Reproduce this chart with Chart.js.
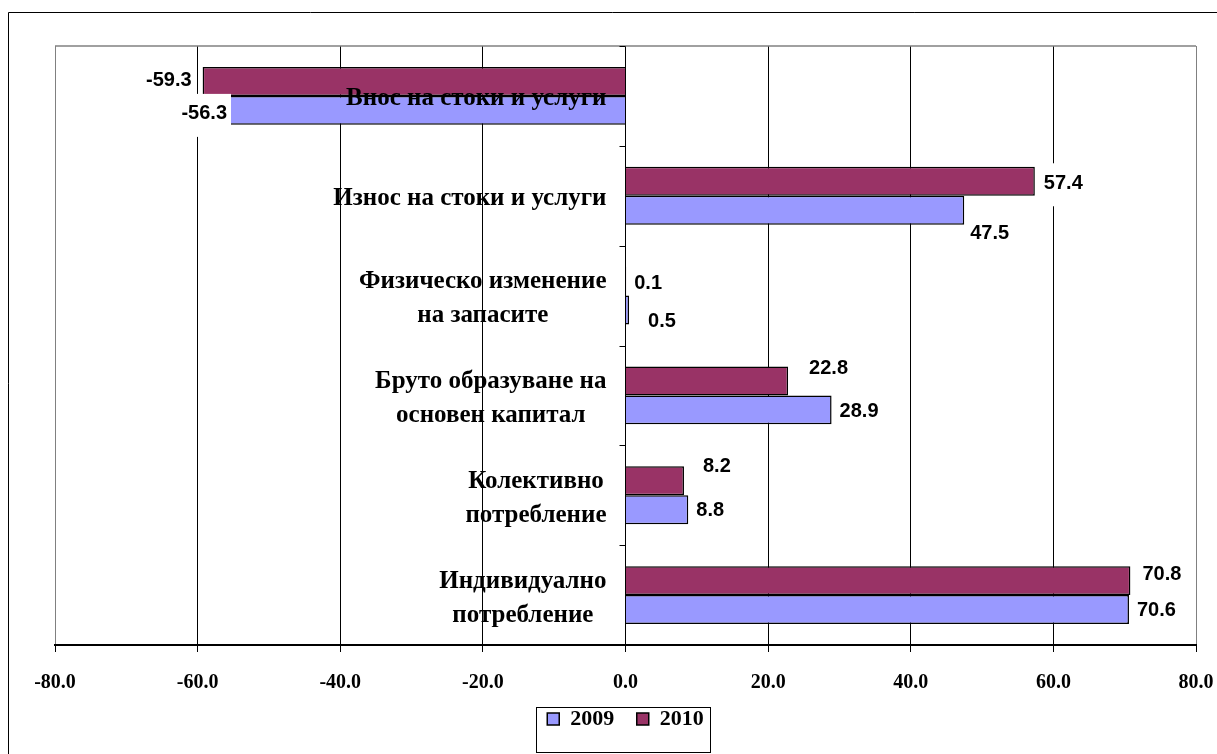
<!DOCTYPE html>
<html>
<head>
<meta charset="utf-8">
<script src="https://cdn.jsdelivr.net/npm/chart.js@4.4.0/dist/chart.umd.min.js"></script>
<style>
  html, body { margin: 0; padding: 0; background: #fff; }
</style>
</head>
<body>
<canvas id="myChart" width="1217" height="754"></canvas>
<script>
const categories = [
  'Внос на стоки и услуги',
  'Износ на стоки и услуги',
  ['Физическо изменение', 'на запасите'],
  ['Бруто образуване на', 'основен капитал'],
  ['Колективно', 'потребление'],
  ['Индивидуално', 'потребление']
];
const values2010 = [-59.3, 57.4, 0.1, 22.8, 8.2, 70.8];
const values2009 = [-56.3, 47.5, 0.5, 28.9, 8.8, 70.6];
const xTicks = [-80, -60, -40, -20, 0, 20, 40, 60, 80];

// where each value label sits, relative to the end of its bar (px)
const labelShift2010 = [[11, -1.5], [9, 1], [8, 1.5], [21, -13.5], [19, -15.5], [12, -7.5]];
const labelShift2009 = [[-3, 2.5], [6, 22.5], [19, 10], [8, 0.5], [8, 0], [8, 0]];

const serif = '"Liberation Serif", "Times New Roman", serif';
const sans = '"Liberation Sans", Arial, sans-serif';

const extras = {
  id: 'extras',
  beforeDraw(chart) {
    const c = chart.ctx;
    c.save();
    c.fillStyle = '#fff';
    c.fillRect(0, 0, chart.width, chart.height);
    c.strokeStyle = '#000';
    c.lineWidth = 1;
    c.beginPath();
    c.moveTo(8.5, chart.height);
    c.lineTo(8.5, 12.5);
    c.lineTo(chart.width, 12.5);
    c.stroke();
    c.restore();
  },
  beforeDatasetsDraw(chart) {
    const c = chart.ctx, a = chart.chartArea;
    c.save();
    c.strokeStyle = '#808080';
    c.lineWidth = 1.5;
    c.beginPath();
    c.moveTo(a.left, a.top);
    c.lineTo(a.right, a.top);
    c.stroke();
    c.restore();
  },
  afterDatasetsDraw(chart) {
    const c = chart.ctx;
    const xs = chart.scales.x, ys = chart.scales.y;
    const x0 = xs.getPixelForValue(0);
    const band = ys.getPixelForValue(1) - ys.getPixelForValue(0);
    c.save();

    // small ticks on the zero line between categories
    c.strokeStyle = '#000';
    c.lineWidth = 1;
    c.beginPath();
    for (let i = 0; i <= categories.length; i++) {
      const y = Math.round(ys.getPixelForValue(0) - band / 2 + i * band) + 0.5;
      c.moveTo(x0 - 6, y);
      c.lineTo(x0, y);
    }
    c.stroke();

    // category names, block ends just left of the zero line
    c.font = 'bold 25px ' + serif;
    c.fillStyle = '#000';
    c.textAlign = 'center';
    c.textBaseline = 'middle';
    categories.forEach((cat, i) => {
      const lines = Array.isArray(cat) ? cat : [cat];
      const w = Math.max(...lines.map(l => c.measureText(l).width));
      const cx = x0 - 19 - w / 2;
      const cy = ys.getPixelForValue(i) + 3;
      lines.forEach((l, k) => {
        c.fillText(l, cx, cy + (k - (lines.length - 1) / 2) * 34);
      });
    });

    // value labels
    c.font = 'bold 20px ' + sans;
    const shifts = [labelShift2010, labelShift2009];
    chart.data.datasets.forEach((ds, di) => {
      const meta = chart.getDatasetMeta(di);
      meta.data.forEach((bar, i) => {
        const v = ds.data[i];
        const txt = v.toFixed(1);
        const [dx, dy] = shifts[di][i];
        const w = c.measureText(txt).width;
        const y = bar.y + dy;
        const left = v >= 0 ? bar.x + dx : bar.x - dx - w;
        c.fillStyle = '#fff';
        c.fillRect(left - 4, y - 19, w + 8, 43);
        c.fillStyle = '#000';
        c.textAlign = 'left';
        c.fillText(txt, left, y + 1);
      });
    });
    c.restore();
  },
  afterDraw(chart) {
    const lg = chart.legend;
    if (!lg || !lg.legendHitBoxes.length) return;
    const hb = lg.legendHitBoxes;
    const first = hb[0], last = hb[hb.length - 1];
    const c = chart.ctx;
    c.save();
    c.strokeStyle = '#000';
    c.lineWidth = 1;
    const l = Math.round(first.left - 11) + 0.5;
    const r = Math.round(last.left + last.width + 6) + 0.5;
    const t = Math.round(first.top - 1) + 0.5;
    c.strokeRect(l, t, r - l, 45);
    c.restore();
  }
};

new Chart(document.getElementById('myChart'), {
  type: 'bar',
  data: {
    labels: categories,
    datasets: [
      {
        label: '2010',
        data: values2010,
        backgroundColor: '#993366',
        borderColor: '#000',
        borderWidth: 1.5,
        categoryPercentage: 0.58,
        barPercentage: 1
      },
      {
        label: '2009',
        data: values2009,
        backgroundColor: '#9999FF',
        borderColor: '#000',
        borderWidth: 1.5,
        categoryPercentage: 0.58,
        barPercentage: 1
      }
    ]
  },
  options: {
    indexAxis: 'y',
    responsive: false,
    animation: false,
    layout: { padding: { left: 55, top: 46, right: 21, bottom: 14 } },
    scales: {
      x: {
        min: -80,
        max: 80,
        afterBuildTicks: axis => { axis.ticks = xTicks.map(v => ({ value: v })); },
        afterFit: axis => {
          axis.height = 46;
          axis.paddingLeft = 0;
          axis.paddingRight = 0;
        },
        grid: {
          color: ctx => (ctx.tick && Math.abs(ctx.tick.value) === 80) ? '#808080' : '#000',
          tickColor: '#000',
          tickLength: 7,
          lineWidth: 1
        },
        border: { color: '#000', width: 2 },
        ticks: {
          padding: 28,
          color: '#000',
          maxRotation: 0,
          font: { family: serif, weight: 'bold', size: 20, lineHeight: '6px' },
          callback: v => Number(v).toFixed(1)
        }
      },
      y: { display: false }
    },
    plugins: {
      legend: {
        position: 'bottom',
        fullSize: false,
        labels: {
          color: '#000',
          boxWidth: 12,
          boxHeight: 12,
          padding: 17,
          font: { family: serif, weight: 'bold', size: 22 },
          generateLabels: chart => {
            const items = Chart.defaults.plugins.legend.labels.generateLabels(chart);
            items.forEach(it => { if (it.datasetIndex === 1) it.text += ' '; });
            return items;
          },
          sort: (a, b) => b.datasetIndex - a.datasetIndex
        }
      },
      tooltip: { enabled: false }
    }
  },
  plugins: [extras]
});
</script>
</body>
</html>
